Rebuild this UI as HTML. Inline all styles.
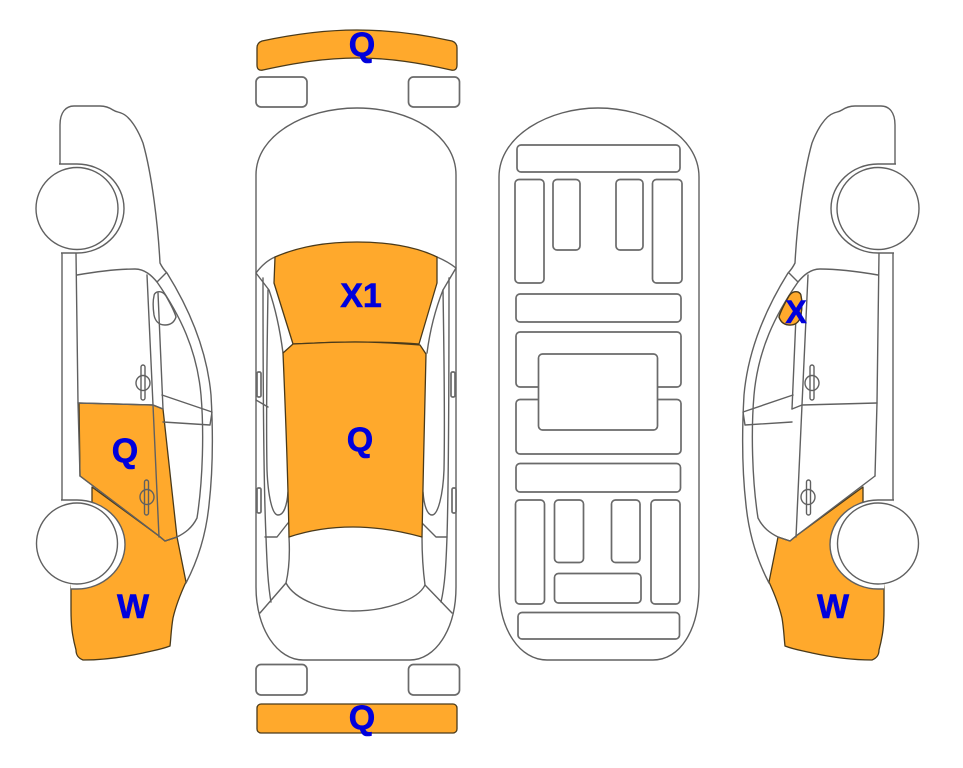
<!DOCTYPE html>
<html><head><meta charset="utf-8"><style>
html,body{margin:0;padding:0;background:#fff}
svg{display:block}
.l{fill:none;stroke:#606060;stroke-width:1.4;stroke-linejoin:round;stroke-linecap:round}
.w{fill:#fff;stroke:#606060;stroke-width:1.4}
.r{fill:#fff;stroke:#6a6a6a;stroke-width:1.7}
.o{fill:#FFA92C;stroke:#4a3a1a;stroke-width:1.3;stroke-linejoin:round}
.t{font-family:"Liberation Sans",Arial,sans-serif;font-weight:bold;font-size:34px;fill:#0000DC;stroke:#0000DC;stroke-width:.6;text-anchor:middle}
</style></head><body>
<svg width="963" height="768" viewBox="0 0 963 768" xmlns="http://www.w3.org/2000/svg">
<defs>
<g id="car">
  <path class="l" d="M60 164V125C60 112 66 106 74 106H100C106 106 110 108 113 110C116 112 119 112 121 113C130 116 138 130 143 143C152 175 158 225 160 263C162 267 164 270 167 273C190 310 207 350 211 395C213 430 213 470 209 505C206 535 198 560 186 583"/>
  <path class="l" d="M62 253V502M76 253L78 403L80 476"/>
  <path class="l" d="M77 275C100 271 120 269 135 269C145 269 152 276 157 282C180 315 197 350 201 395C204 430 203 480 197 518C192 528 185 533 177 537"/>
  <path class="l" d="M157 282L166 273"/>
  <path class="l" d="M147 275L153 405L159 537M158 293L163 409"/>
  <path class="l" d="M157 292C161 291 164 293 166 296C170 303 174 310 176 317C174 323 170 325 165 325C158 325 155 320 154 315C153 308 153 300 154 296C154 294 155 293 157 292Z"/>
  <path class="l" d="M78 403L153 405L163 409M162 395L212 412L210 425L163 422M80 476L159 536L165 541L177 537"/>
  <rect class="l" x="141" y="365" width="4" height="35" rx="2"/>
  <ellipse class="l" cx="143" cy="383" rx="7" ry="7.5"/>
  <rect class="l" x="144.500" y="480" width="4" height="35" rx="2"/>
  <ellipse class="l" cx="147" cy="497" rx="7" ry="7.5"/>
  <path class="w" d="M59 164H77C103 164 124 184 124 208.500C124 233 103 253 77 253H61"/>
  <circle class="w" cx="77" cy="208.500" r="41"/>
  <path class="w" d="M61 500H77C103 500 125 520 125 544.500C125 569 103 589 77 589H71"/>
  <circle class="w" cx="77" cy="543.500" r="40.500"/>
</g>
</defs>

<!-- left car fills -->
<path class="o" d="M92 505L92 487L159 536L165 541L177 537L186 582C180 595 176 605 173 618C171 630 171 638 170 646C160 650 150 651 143 653C120 658 100 660 83 660C78 658 76 655 76 650C72 635 71 625 71 610V540Z"/>
<path class="o" d="M79 403L153 405L163 409L177 537L165 541L159 536L80 476Z"/>
<use href="#car"/>

<!-- right car fills -->
<g transform="matrix(-1 0 0 1 955 0)">
<path class="o" d="M92 505L92 487L159 536L165 541L177 537L186 582C180 595 176 605 173 618C171 630 171 638 170 646C160 650 150 651 143 653C120 658 100 660 83 660C78 658 76 655 76 650C72 635 71 625 71 610V540Z"/>
<use href="#car"/>
<path class="o" d="M157 292C161 291 164 293 166 296C170 303 174 310 176 317C174 323 170 325 165 325C158 325 155 320 154 315C153 308 153 300 154 296C154 294 155 293 157 292Z"/>
</g>

<!-- top view -->
<path class="o" d="M257 48C257 44 259 42 262 41C290 35 325 30 357 30C390 30 425 35 452 41C455 42 457 44 457 48V65C457 69 455 71 451 70C420 63 390 58 357 58C325 58 295 63 263 70C259 71 257 69 257 65Z"/>
<rect class="r" x="256" y="77" width="51" height="30" rx="5"/>
<rect class="r" x="408.500" y="77" width="51" height="30" rx="5"/>
<rect class="r" x="256" y="664.500" width="51" height="30.500" rx="5"/>
<rect class="r" x="408.500" y="664.500" width="51" height="30.500" rx="5"/>
<rect class="o" x="257" y="704" width="200" height="29" rx="4"/>

<path class="l" d="M256 587V175C256 135 305 108 357 108C410 108 456 135 456 175V587C456 630 435 660 410 660H303C278 660 256 630 256 587Z"/>
<path class="l" d="M256 273C262 265 268 260 275 257M437 257C444 260 451 264 456 268M256 273L269 290C276 310 280 330 283 353M456 268L443 290C435 310 430 330 427 353"/>
<path class="l" d="M263 278C263 340 263 470 266 537C267 565 268 585 271 602M268 290C267 350 266 420 267 470C268 495 272 515 278 515C284 515 287 505 288 492M449 278C449 340 449 470 447 537C446 565 445 585 441 602M443 290C444 350 445 420 444 470C443 495 438 515 432 515C427 515 424 505 423 492"/>
<path class="l" d="M265 537H277L288 523M422 523L436 537H447M256 400L268 407"/>
<path class="l" d="M289 537C290 555 289 570 286 583L260 613M422 537C422 555 423 570 425 585L452 613"/>
<path class="l" d="M286 583C295 600 325 611 353 611C385 611 418 600 425 585"/>
<rect class="r" x="257" y="372" width="4" height="25" rx="1.500"/>
<rect class="r" x="257" y="488" width="4" height="25" rx="1.500"/>
<rect class="r" x="451" y="372" width="4" height="25" rx="1.500"/>
<rect class="r" x="452" y="488" width="4" height="25" rx="1.500"/>
<path class="o" d="M275 257C300 246 330 242 357 242C385 242 415 246 437 257L437 283L419 344C395 342 375 342 355 342C335 342 315 343 293 344L274 283Z"/>
<path class="o" d="M293 344C315 343 335 342 355 342C375 342 395 343 420 345L426 354C425 400 423 480 422 537C400 531 375 527 353 527C330 527 310 530 289 537C288 480 285 400 283 353Z"/>

<!-- underside -->
<path class="l" d="M499 587V177C499 135 550 108 598 108C648 108 699 135 699 177V587C699 630 680 660 653 660H547C520 660 499 630 499 587Z"/>
<g>
<rect class="r" x="517" y="145" width="163" height="27" rx="4"/>
<rect class="r" x="515" y="179.500" width="29" height="103.500" rx="4"/>
<rect class="r" x="553" y="179.500" width="27" height="70.500" rx="4"/>
<rect class="r" x="616" y="179.500" width="27" height="70.500" rx="4"/>
<rect class="r" x="652.500" y="179.500" width="29.500" height="103.500" rx="4"/>
<rect class="r" x="516" y="294" width="165" height="28" rx="4"/>
<rect class="r" x="516" y="332" width="165" height="55" rx="4"/>
<rect class="r" x="516" y="399.500" width="165" height="54.500" rx="4"/>
<rect class="r" x="538.500" y="354" width="119" height="76" rx="4"/>
<rect class="r" x="516" y="463.500" width="164.500" height="28.500" rx="4"/>
<rect class="r" x="515.500" y="500" width="29" height="104" rx="4"/>
<rect class="r" x="554.500" y="500" width="29" height="62.500" rx="4"/>
<rect class="r" x="611.500" y="500" width="28.500" height="62.500" rx="4"/>
<rect class="r" x="651" y="500" width="29" height="104" rx="4"/>
<rect class="r" x="554.500" y="573.500" width="86.500" height="29.500" rx="4"/>
<rect class="r" x="518" y="612.500" width="161.500" height="26.500" rx="4"/>
</g>

<!-- labels -->
<text class="t" x="362" y="56">Q</text>
<text class="t" x="361" y="307">X1</text>
<text class="t" x="360" y="451">Q</text>
<text class="t" x="362" y="729">Q</text>
<text class="t" x="125" y="462">Q</text>
<text class="t" x="133" y="618">W</text>
<text class="t" x="833" y="618">W</text>
<text class="t" x="796" y="323" style="font-size:32px">X</text>
</svg>
</body></html>
